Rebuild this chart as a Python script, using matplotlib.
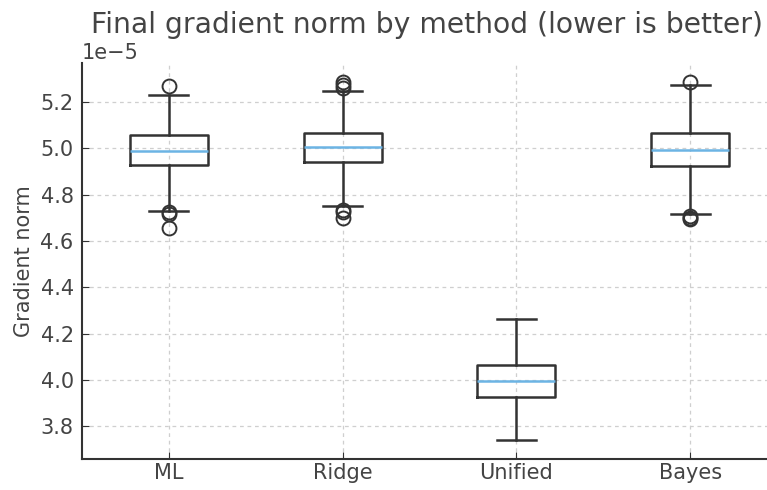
import matplotlib
matplotlib.use("Agg")
import matplotlib.pyplot as plt

# values in units of 1e-5
methods = ["ML", "Ridge", "Unified", "Bayes"]
whislo = [4.73, 4.75, 3.74, 4.715]
q1 = [4.93, 4.94, 3.925, 4.925]
med = [4.99, 5.005, 3.995, 4.995]
q3 = [5.06, 5.065, 4.065, 5.065]
whishi = [5.23, 5.25, 4.265, 5.275]
fliers = [
    [5.27, 4.725, 4.715, 4.655],
    [5.26, 5.275, 5.285, 4.735, 4.725, 4.70],
    [],
    [5.285, 4.71, 4.70, 4.695],
]

scale = 1e-5
stats = []
for i, name in enumerate(methods):
    stats.append({
        "label": name,
        "whislo": whislo[i] * scale,
        "q1": q1[i] * scale,
        "med": med[i] * scale,
        "q3": q3[i] * scale,
        "whishi": whishi[i] * scale,
        "fliers": [f * scale for f in fliers[i]],
    })

text_col = "#444444"
line_col = "#333333"
plt.rcParams["font.family"] = "DejaVu Sans"
plt.rcParams["text.color"] = text_col
plt.rcParams["axes.labelcolor"] = text_col
plt.rcParams["xtick.color"] = text_col
plt.rcParams["ytick.color"] = text_col

fig = plt.figure(figsize=(7.67, 4.9), dpi=100)
ax = fig.add_axes([0.107, 0.063, 0.906, 0.808])

lw = 1.8
ax.bxp(
    stats,
    widths=0.45,
    boxprops=dict(color=line_col, linewidth=lw),
    whiskerprops=dict(color=line_col, linewidth=lw),
    capprops=dict(color=line_col, linewidth=lw),
    medianprops=dict(color="#6cb4e4", linewidth=1.8),
    flierprops=dict(marker="o", markerfacecolor="none", markeredgecolor=line_col,
                    markersize=10, markeredgewidth=1.4),
)

ax.set_xlim(0.5, 4.5)
ax.set_ylim(3.658e-5, 5.368e-5)
ax.grid(True, linestyle=(0, (3, 3)), color="#cfcfcf", linewidth=0.9)
ax.set_axisbelow(True)
for side in ["top", "right"]:
    ax.spines[side].set_visible(False)
for side in ["left", "bottom"]:
    ax.spines[side].set_color(line_col)
    ax.spines[side].set_linewidth(1.5)

ax.tick_params(labelsize=15, length=5, direction="in", color=line_col)
ax.tick_params(axis="y", pad=6)
ax.tick_params(axis="x", pad=3)
ax.yaxis.get_offset_text().set_fontsize(15)
ax.set_ylabel("Gradient norm", fontsize=15, labelpad=5)

# title placed by hand so the offset text does not push it around
fig.text(0.557, 0.933, "Final gradient norm by method (lower is better)",
         fontsize=20.3, ha="center", va="baseline", color=text_col)

fig.savefig("out.png", dpi=100)
